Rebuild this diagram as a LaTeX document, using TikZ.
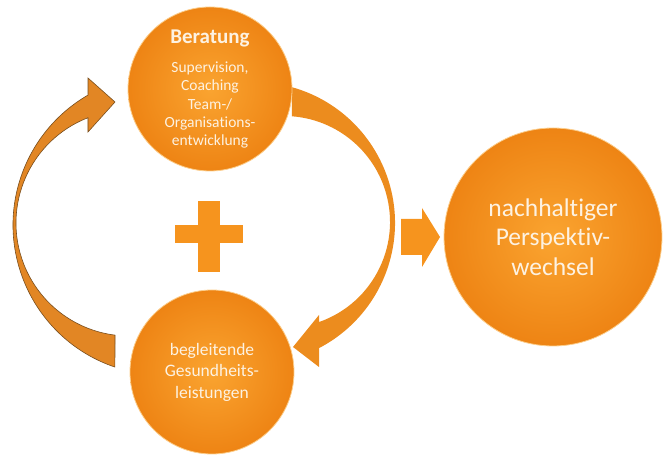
\documentclass[tikz,border=0pt]{standalone}
\usepackage{fontspec}
\setmainfont[Ligatures=NoCommon]{Carlito}
\newcommand{\nolig}{\kern0pt{}} % keeps t and i apart

\definecolor{orangeL}{RGB}{250,164,48}
\definecolor{orangeD}{RGB}{238,132,20}
\definecolor{orangeF}{RGB}{246,148,30}
\definecolor{arcleft}{RGB}{226,134,36}
\definecolor{arcright}{RGB}{236,140,30}
\definecolor{arcline}{RGB}{120,78,30}
\definecolor{rim}{RGB}{252,206,140}
\definecolor{cream}{RGB}{253,242,226}

\begin{document}
\begin{tikzpicture}[x=1pt,y=1pt,
  bubble/.style={circle, inner sep=0pt, align=center, text=cream,
                 inner color=orangeL, outer color=orangeD,
                 draw=rim, line width=0.8pt}]

\useasboundingbox (0,0) rectangle (663,457);

% Centres of the curved arrows
\coordinate (lo) at (163,232); % left, outer edge
\coordinate (li) at (129,234); % left, inner edge
\coordinate (ro) at (254,234); % right, outer edge
\coordinate (ri) at (284,235); % right, inner edge

% Left curved arrow (up to Beratung)
\filldraw[fill=arcleft, draw=arcline, line width=0.6pt]
  ([shift={(251.3:150)}]lo) arc[start angle=251.3, end angle=120, radius=150]
  -- (88,379) -- (115,355) -- (88,325)
  -- ([shift={(111.3:113)}]li) arc[start angle=111.3, end angle=262.9, radius=113]
  -- cycle;

% Right curved arrow (down to the Gesundheitsleistungen)
\fill[arcright]
  ([shift={(74.4:141)}]ro) arc[start angle=74.4, end angle=-62.5, radius=141]
  -- (319,90) -- (293,110) -- (319,142)
  -- ([shift={(-70.7:106)}]ri) arc[start angle=-70.7, end angle=85.7, radius=106]
  -- cycle;

% Plus
\fill[orangeF] (175,214) rectangle (243,232);
\fill[orangeF] (198,185) rectangle (220,256);

% Block arrow
\fill[orangeF] (401,202) -- (422,202) -- (422,190) -- (440,220)
  -- (422,249) -- (422,238) -- (401,238) -- cycle;

% Circles
\node[bubble, minimum size=164pt, font=\fontsize{15.5}{18.3}\selectfont]
  (berat) at (210,368)
  {{\fontsize{21}{25}\selectfont\bfseries Beratung}\\[11pt]
   Supervision,\\Coaching\\Team-/\\Organisat\nolig ions-\\entwicklung};

\node[bubble, minimum size=164pt, font=\fontsize{17.5}{21.5}\selectfont]
  (gesund) at (212,85)
  {begleitende\\Gesundheits-\\leistungen};

\node[bubble, minimum size=218pt, font=\fontsize{25.5}{29.5}\selectfont]
  (wechsel) at (553,220)
  {nachhalt\nolig iger\\Perspekt\nolig iv-\\wechsel};

\end{tikzpicture}
\end{document}
